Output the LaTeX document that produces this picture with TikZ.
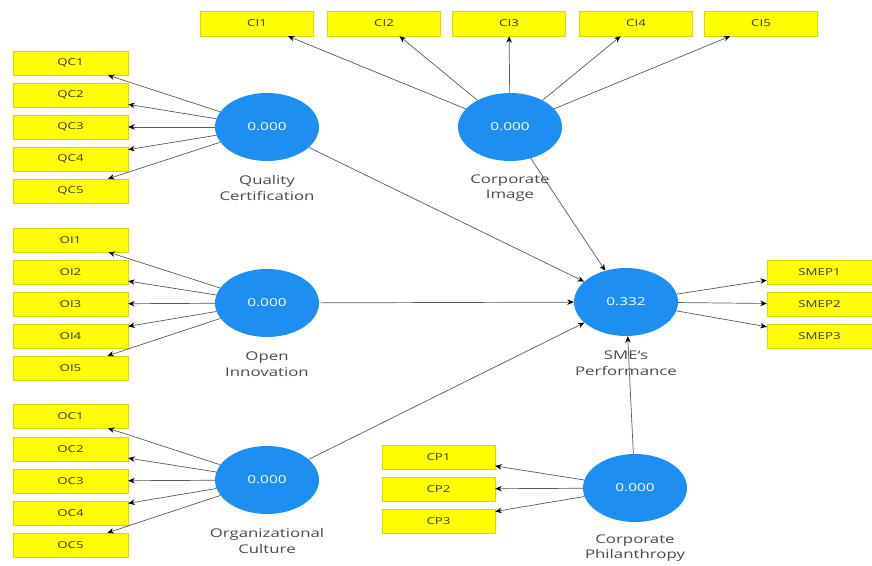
\documentclass[tikz,border=0pt]{standalone}
\usepackage{fontspec}
\setmainfont[FakeStretch=1.4]{Open Sans}
\usetikzlibrary{arrows.meta,shapes.geometric}
\definecolor{lvblue}{HTML}{1E8FF0}
\definecolor{indyel}{HTML}{FFFF00}
\definecolor{indedge}{HTML}{D8D800}
\definecolor{linegray}{HTML}{5A5A5A}
\definecolor{labgray}{HTML}{4A4A4A}
\tikzset{
  lv/.style={ellipse, fill=lvblue, minimum width=104pt, minimum height=68pt, inner sep=0pt,
    text=white, font=\fontsize{11}{12}\selectfont},
  ind/.style={rectangle, fill=indyel, draw=indedge, line width=0.4pt, minimum height=24pt,
    inner sep=0pt, text=black!80, font=\fontsize{9.5}{10}\selectfont},
  lvlab/.style={align=center, text=labgray, font=\fontsize{12}{15.5}\selectfont, inner sep=0pt},
  conn/.style={draw=linegray, line width=0.7pt, -{Stealth[length=6.5pt,width=5.5pt,color=black]}}
}
\begin{document}
\begin{tikzpicture}[x=1pt,y=-1pt]
\useasboundingbox (0,0) rectangle (872,565);
\fill[white] (0,0) rectangle (872,565);
% latent variables
\node[lv] (qc) at (267,127) {0.000};
\node[lv] (ci) at (510,127) {0.000};
\node[lv] (oi) at (267,303) {0.000};
\node[lv] (oc) at (267,480) {0.000};
\node[lv] (sme) at (626,302) {0.332};
\node[lv] (cp) at (635,488) {0.000};
% labels
\node[lvlab] (qcl) at (267,188) {Quality\\Certification};
\node[lvlab] (cil) at (510,188) {Corporate\\Image};
\node[lvlab] (oil) at (267,364) {Open\\Innovation};
\node[lvlab] (ocl) at (267,541) {Organizational\\Culture};
\node[lvlab] (smel) at (626,363) {SME\symbol{96}s\\Performance};
\node[lvlab] (cpl) at (635,548) {Corporate\\Philanthropy};
% indicators
\foreach \i/\y in {1/63,2/95,3/127,4/159,5/191}
  \node[ind, minimum width=115pt] (qc\i) at (70.5,\y) {QC\i};
\foreach \i/\y in {1/240,2/272,3/304,4/336,5/368}
  \node[ind, minimum width=115pt] (oi\i) at (70.5,\y) {OI\i};
\foreach \i/\y in {1/416,2/449,3/481,4/513,5/545}
  \node[ind, minimum width=115pt] (oc\i) at (70.5,\y) {OC\i};
\foreach \i/\x in {1/257,2/384,3/509,4/636,5/761}
  \node[ind, minimum width=113pt, minimum height=25pt] (ci\i) at (\x,23.5) {CI\i};
\foreach \i/\y in {1/272,2/304,3/336}
  \node[ind, minimum width=105pt] (smep\i) at (819.5,\y) {SMEP\i};
\foreach \i/\y in {1/457,2/489,3/521}
  \node[ind, minimum width=113pt] (cp\i) at (438.5,\y) {CP\i};
% outer connectors
\foreach \i in {1,...,5} {
  \draw[conn] (qc) -- (qc\i);
  \draw[conn] (oi) -- (oi\i);
  \draw[conn] (oc) -- (oc\i);
  \draw[conn] (ci) -- (ci\i);
}
\foreach \i in {1,2,3} {
  \draw[conn] (sme) -- (smep\i);
  \draw[conn] (cp) -- (cp\i);
}
% inner connectors
\draw[conn] (qc) -- (sme);
\draw[conn] (ci) -- (sme);
\draw[conn] (oi) -- (sme);
\draw[conn] (oc) -- (sme);
\draw[conn] (cp) -- (sme);
\end{tikzpicture}
\end{document}
